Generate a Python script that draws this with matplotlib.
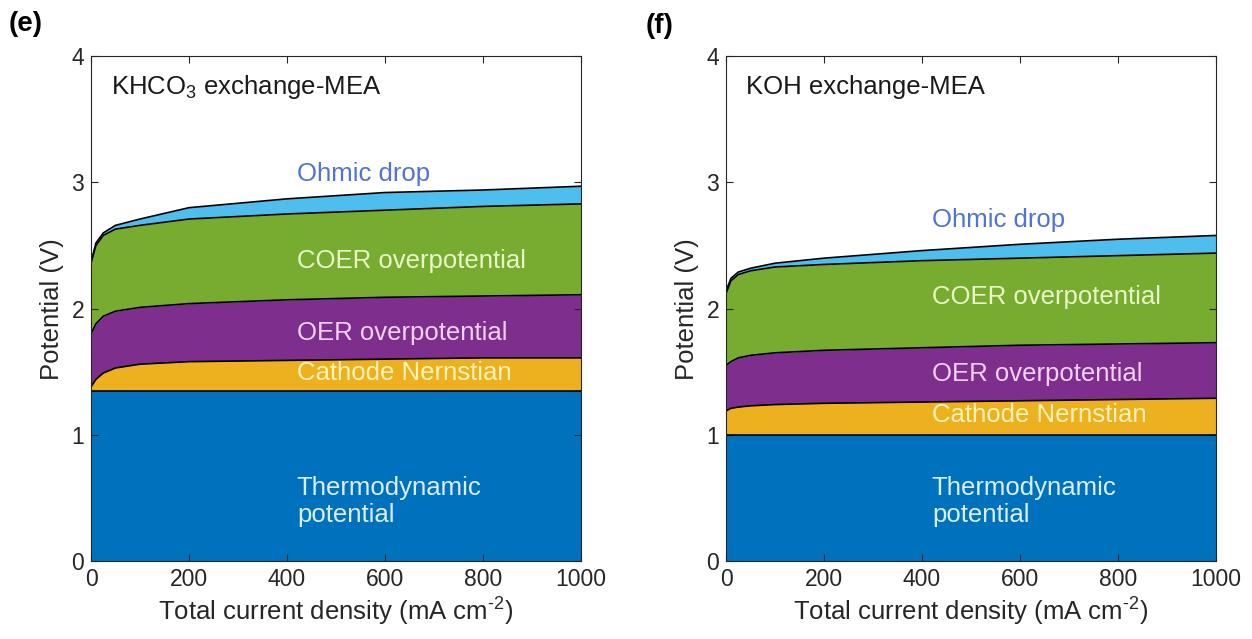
import matplotlib
matplotlib.use("Agg")
import matplotlib.pyplot as plt

plt.rcParams["font.family"] = ["Liberation Sans", "DejaVu Sans"]
plt.rcParams["mathtext.fontset"] = "custom"
plt.rcParams["mathtext.rm"] = "Liberation Sans"

# current density points (mA cm-2)
current = [0, 10, 25, 50, 100, 200, 400, 600, 800, 1000]

# cumulative layer tops (V) - KHCO3 panel
khco3_thermo = [1.35, 1.35, 1.35, 1.35, 1.35, 1.35, 1.35, 1.35, 1.35, 1.35]
khco3_cathode = [1.38, 1.44, 1.49, 1.53, 1.56, 1.58, 1.59, 1.60, 1.61, 1.61]
khco3_oer = [1.80, 1.88, 1.94, 1.98, 2.01, 2.04, 2.07, 2.09, 2.10, 2.11]
khco3_coer = [2.36, 2.50, 2.58, 2.63, 2.66, 2.71, 2.75, 2.78, 2.81, 2.83]
khco3_ohmic = [2.37, 2.52, 2.60, 2.66, 2.71, 2.80, 2.87, 2.92, 2.94, 2.97]

# KOH panel
koh_thermo = [1.00, 1.00, 1.00, 1.00, 1.00, 1.00, 1.00, 1.00, 1.00, 1.00]
koh_cathode = [1.19, 1.21, 1.22, 1.23, 1.24, 1.25, 1.26, 1.27, 1.28, 1.29]
koh_oer = [1.55, 1.58, 1.61, 1.63, 1.65, 1.67, 1.69, 1.71, 1.72, 1.73]
koh_coer = [2.12, 2.22, 2.27, 2.30, 2.33, 2.35, 2.38, 2.40, 2.42, 2.44]
koh_ohmic = [2.14, 2.24, 2.29, 2.32, 2.36, 2.40, 2.46, 2.51, 2.55, 2.58]

layer_colors = ["#0072BD", "#EDB120", "#7E2F8E", "#77AC30", "#4DBEEE"]
label_colors = ["#DCEEFF", "#FFF3B8", "#F3D2F3", "#EAF7C8", "#4F74D6"]
layer_names = ["Thermodynamic\npotential", "Cathode Nernstian",
               "OER overpotential", "COER overpotential", "Ohmic drop"]

fig = plt.figure(figsize=(12.52, 6.39), dpi=100)
ax_left = fig.add_axes([0.0727, 0.122, 0.3914, 0.790])
ax_right = fig.add_axes([0.5799, 0.122, 0.3914, 0.790])

panels = [
    (ax_left, [khco3_thermo, khco3_cathode, khco3_oer, khco3_coer, khco3_ohmic],
     "KHCO$_3$ exchange-MEA", [0.47, 1.49, 1.81, 2.38, 3.07]),
    (ax_right, [koh_thermo, koh_cathode, koh_oer, koh_coer, koh_ohmic],
     "KOH exchange-MEA", [0.47, 1.16, 1.48, 2.09, 2.70]),
]

for ax, tops, title, label_y in panels:
    lower = [0] * len(current)
    for top, color in zip(tops, layer_colors):
        ax.fill_between(current, lower, top, color=color, linewidth=0)
        lower = top
    for top in tops:
        ax.plot(current, top, color="black", linewidth=1.2)

    for name, y, c in zip(layer_names, label_y, label_colors):
        ax.text(420, y, name, color=c, fontsize=18.5, va="center", ha="left",
                linespacing=1.15)

    ax.text(0.04, 0.94, title, transform=ax.transAxes, fontsize=18.5,
            va="center", ha="left", color="#1a1a1a")

    ax.set_xlim(0, 1000)
    ax.set_ylim(0, 4)
    ax.set_xticks([0, 200, 400, 600, 800, 1000])
    ax.set_yticks([0, 1, 2, 3, 4])
    ax.tick_params(direction="in", top=True, right=True, labelsize=16.5,
                   colors="#262626", length=5, width=0.8, pad=5)
    for spine in ax.spines.values():
        spine.set_color("#262626")
        spine.set_linewidth(0.8)
    ax.set_xlabel(r"Total current density (mA cm$^{\text{-2}}$)", fontsize=18.5,
                  color="#262626", labelpad=2)
    ax.set_ylabel("Potential (V)", fontsize=18.5, color="#262626", labelpad=5)

fig.text(0.007, 0.962, "(e)", fontsize=20, fontweight="bold", va="center")
fig.text(0.516, 0.960, "(f)", fontsize=20, fontweight="bold", va="center")

fig.savefig("out.png", dpi=100)
